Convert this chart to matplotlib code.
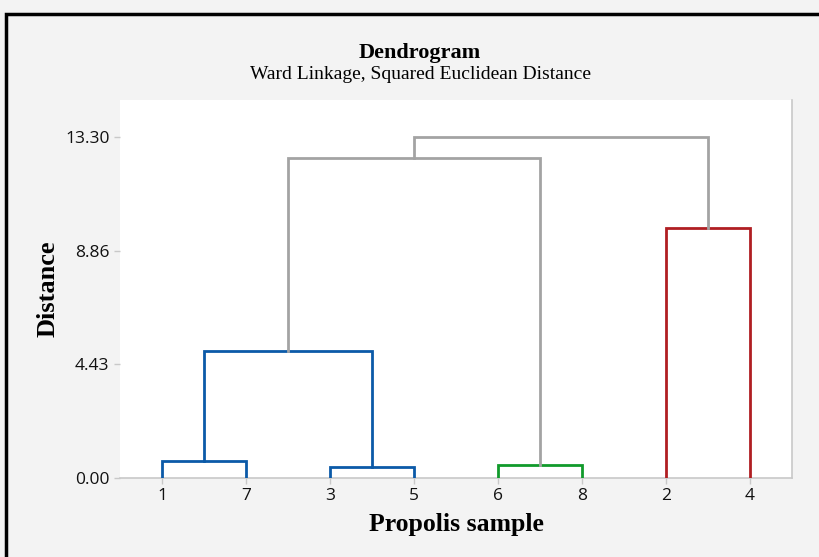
import matplotlib.pyplot as plt
import matplotlib.patches as mpatches
import numpy as np

# Leaf order as shown along the x axis
leaf_labels = ['1', '7', '3', '5', '6', '8', '2', '4']

# Merges: (left node, right node, distance, colour); leaves are 0..7,
# merge k creates node 8 + k
merge_left = [0, 2, 4, 8, 11, 6, 12]
merge_right = [1, 3, 5, 9, 10, 7, 13]
merge_height = [0.66, 0.43, 0.50, 4.95, 12.48, 9.75, 13.30]
merge_color = ['#0b5aa8', '#0b5aa8', '#119a2b', '#0b5aa8', '#a3a3a3', '#b01e22', '#a3a3a3']

y_ticks = [0.00, 4.43, 8.86, 13.30]

fig = plt.figure(figsize=(8.2, 5.57), dpi=100)
fig.patch.set_facecolor('#f3f3f3')
ax = fig.add_axes([120 / 820, 1 - 478 / 557, 672 / 820, 378 / 557])
ax.set_facecolor('white')

# node positions and heights
xpos = {i: i + 1 for i in range(len(leaf_labels))}
ypos = {i: 0.0 for i in range(len(leaf_labels))}
pending = list(range(len(merge_height)))
while pending:
    for k in list(pending):
        a, b = merge_left[k], merge_right[k]
        if a in xpos and b in xpos:
            h = merge_height[k]
            ax.plot([xpos[a], xpos[a], xpos[b], xpos[b]],
                    [ypos[a], h, h, ypos[b]],
                    color=merge_color[k], linewidth=2.0,
                    solid_joinstyle='miter', zorder=3)
            n = len(leaf_labels) + k
            xpos[n] = (xpos[a] + xpos[b]) / 2
            ypos[n] = h
            pending.remove(k)

ax.set_xlim(0.5, 8.5)
ax.set_ylim(0, 14.74)
ax.set_xticks(np.arange(1, len(leaf_labels) + 1))
ax.set_xticklabels(leaf_labels)
ax.set_yticks(y_ticks)
ax.set_yticklabels([f'{v:.2f}' for v in y_ticks])
ax.tick_params(axis='both', colors='#c8c8c8', labelcolor='#111111', length=4,
               width=1, labelsize=12.5)
for lab in ax.get_xticklabels() + ax.get_yticklabels():
    lab.set_family('Open Sans')

for side in ['top', 'left']:
    ax.spines[side].set_visible(False)
for side in ['bottom', 'right']:
    ax.spines[side].set_color('#c8c8c8')
    ax.spines[side].set_linewidth(1.2)

ax.set_xlabel('Propolis sample', family='Liberation Serif', fontweight='bold',
              fontsize=18.5, labelpad=6)
ax.set_ylabel('Distance', family='Liberation Serif', fontweight='bold',
              fontsize=19, labelpad=4)

fig.text(420 / 820, 1 - 53 / 557, 'Dendrogram', family='Liberation Serif',
         fontweight='bold', fontsize=16, ha='center', va='center')
fig.text(421 / 820, 1 - 75 / 557, 'Ward Linkage, Squared Euclidean Distance',
         family='Liberation Serif', fontsize=14, ha='center', va='center')

# outer black frame (cropped on right and bottom)
frame = mpatches.Rectangle((6.5 / 820, -0.05), 1.1, 1 - 13.5 / 557 + 0.05,
                           transform=fig.transFigure, fill=False,
                           edgecolor='black', linewidth=2.5, zorder=10)
fig.patches.append(frame)

plt.savefig('out.png', dpi=100, facecolor=fig.get_facecolor())
